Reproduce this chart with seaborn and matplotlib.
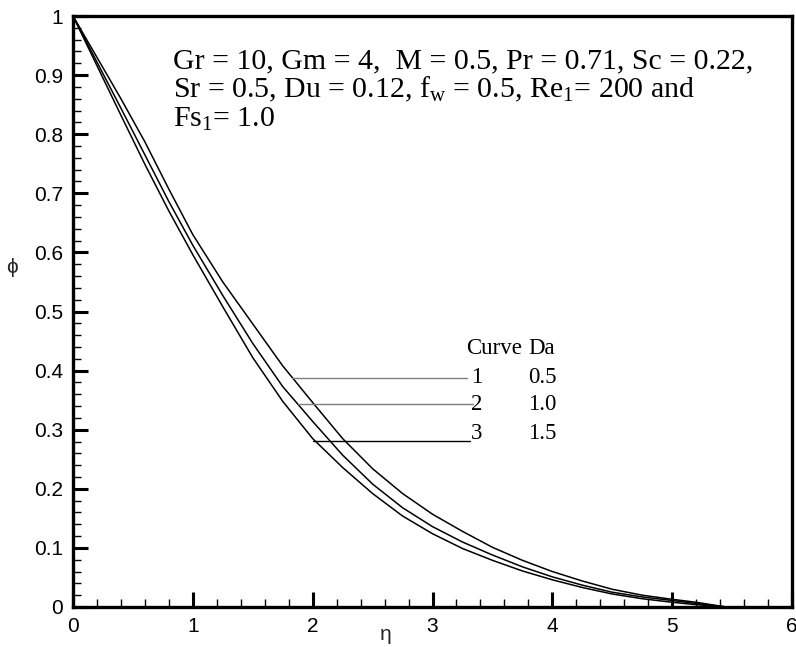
import numpy as np
import pandas as pd
import matplotlib
matplotlib.use("Agg")
import matplotlib.pyplot as plt
from matplotlib.ticker import MultipleLocator
import seaborn as sns

# ---- data ----
eta = [0, 0.2, 0.4, 0.6, 0.8, 1.0, 1.25, 1.5, 1.75, 2.0, 2.25, 2.5, 2.75,
       3.0, 3.25, 3.5, 3.75, 4.0, 4.25, 4.5, 4.75, 5.0, 5.2, 5.45]
phi_da05 = [1.0, 0.930, 0.860, 0.787, 0.707, 0.630, 0.550, 0.479, 0.408, 0.346,
            0.285, 0.234, 0.192, 0.157, 0.128, 0.101, 0.079, 0.060, 0.044, 0.030,
            0.020, 0.013, 0.008, 0.0]
phi_da10 = [1.0, 0.922, 0.844, 0.765, 0.686, 0.612, 0.527, 0.446, 0.373, 0.314,
            0.257, 0.208, 0.168, 0.136, 0.110, 0.088, 0.068, 0.051, 0.037, 0.025,
            0.017, 0.011, 0.006, 0.0]
phi_da15 = [1.0, 0.916, 0.832, 0.749, 0.670, 0.596, 0.508, 0.422, 0.348, 0.285,
            0.236, 0.192, 0.154, 0.124, 0.099, 0.079, 0.061, 0.046, 0.033, 0.022,
            0.014, 0.008, 0.004, 0.0]
curve_ids = ["1", "2", "3"]
da_values = ["0.5", "1.0", "1.5"]
x_ticks = [0, 1, 2, 3, 4, 5, 6]
y_ticks = [0, 0.1, 0.2, 0.3, 0.4, 0.5, 0.6, 0.7, 0.8, 0.9, 1.0]
y_ticklabels = ["0", "0.1", "0.2", "0.3", "0.4", "0.5", "0.6", "0.7", "0.8", "0.9", "1"]
# label leader lines: (eta where line meets curve, phi level, eta end)
leader_start = [1.825, 1.878, 2.003]
leader_phi = [0.388, 0.343, 0.281]
leader_end = [3.29, 3.34, 3.31]
leader_colors = ["#7f7f7f", "#7f7f7f", "#000000"]

df = pd.concat([
    pd.DataFrame({"eta": eta, "phi": p, "Da": d})
    for p, d in zip([phi_da05, phi_da10, phi_da15], da_values)
])

sns.set_theme(style="white")
plt.rcParams["font.family"] = ["Liberation Sans", "DejaVu Sans"]
plt.rcParams["mathtext.fontset"] = "custom"
plt.rcParams["mathtext.rm"] = "Liberation Serif"
plt.rcParams["mathtext.it"] = "Liberation Serif:italic"

fig = plt.figure(figsize=(7.96, 6.47), dpi=100)
ax = fig.add_axes([73 / 796, 40 / 647, 719 / 796, 591 / 647])

sns.lineplot(data=df, x="eta", y="phi", hue="Da", units="Da", estimator=None,
             palette=["black"] * 3, linewidth=1.1, legend=False, ax=ax, sort=False)

ax.set_xlim(0, 6)
ax.set_ylim(0, 1)
ax.set_xticks(x_ticks)
ax.set_yticks(y_ticks)
ax.set_yticklabels(y_ticklabels)
ax.xaxis.set_minor_locator(MultipleLocator(0.2))
ax.yaxis.set_minor_locator(MultipleLocator(0.02))
ax.tick_params(which="both", bottom=True, left=True, top=False, right=False)
ax.tick_params(which="major", direction="in", length=11, width=2.2, labelsize=15,
               colors="black", pad=7)
ax.tick_params(which="minor", direction="in", length=6, width=1.0, colors="black")
for s in ax.spines.values():
    s.set_linewidth(2.4)
    s.set_color("black")
    s.set_visible(True)

ax.set_xlabel("η", fontsize=15)
ax.xaxis.set_label_coords((386 - 73) / 719, (607 - 635) / 591)
ax.xaxis.label.set_va("center")
ax.set_ylabel("ϕ", fontsize=15, rotation=0)
ax.yaxis.set_label_coords((12 - 73) / 719, (607 - 268) / 591)
ax.yaxis.label.set_va("center")
ax.yaxis.label.set_ha("center")

serif = dict(family="Liberation Serif", fontsize=16.5, color="black")
big = dict(family="Liberation Serif", fontsize=21.5, color="black")
tx = (173 - 73) / 719
ax.text(tx, (607 - 68) / 591, "Gr = 10, Gm = 4,  M = 0.5, Pr = 0.71, Sc = 0.22,",
        transform=ax.transAxes, va="baseline", ha="left", **big)
ax.text(tx, (607 - 97) / 591,
        "Sr = 0.5, Du = 0.12, f$_\\mathrm{w}$ = 0.5, Re$_\\mathrm{1}$= 200 and",
        transform=ax.transAxes, va="baseline", ha="left", **big)
ax.text(tx, (607 - 127) / 591, "Fs$_\\mathrm{1}$= 1.0",
        transform=ax.transAxes, va="baseline", ha="left", **big)

# curve label table
ax.text(3.28, 0.437, "Curve", va="center", ha="left", **serif)
ax.text(3.80, 0.437, "Da", va="center", ha="left", **serif)
num_y = [0.389, 0.342, 0.294]
for cid, dv, yy, xs, yl, xe, c in zip(curve_ids, da_values, num_y, leader_start,
                                      leader_phi, leader_end, leader_colors):
    ax.plot([xs, xe], [yl, yl], color=c, linewidth=1.0)
    ax.text(3.37, yy, cid, va="center", ha="center", **serif)
    ax.text(3.80, yy, dv, va="center", ha="left", **serif)

fig.savefig("out.png", dpi=100)
